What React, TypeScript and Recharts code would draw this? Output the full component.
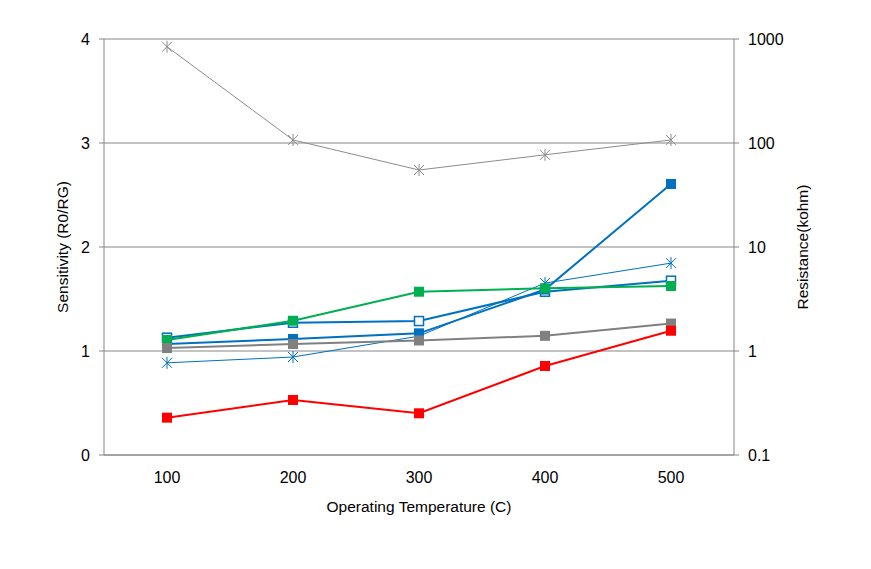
import React from 'react';
import { LineChart, Line, XAxis, YAxis, CartesianGrid } from 'recharts';

const temps = [100, 200, 300, 400, 500];
const xBoundaries = [50, 150, 250, 350, 450, 550];
const sensTicks = [0, 1, 2, 3, 4];
const resTicks = [0.1, 1, 10, 100, 1000];

// Resistance (kohm), right log axis
const resGray = [843, 107, 55, 77, 107];
const resBlue = [0.77, 0.875, 1.39, 4.5, 7.0];
// Sensitivity (R0/RG), left axis
const sensBlueOpen = [1.128, 1.272, 1.288, 1.57, 1.676];
const sensBlueFilled = [1.067, 1.115, 1.17, 1.591, 2.606];
const sensGreen = [1.106, 1.291, 1.57, 1.603, 1.625];
const sensGray = [1.029, 1.067, 1.101, 1.146, 1.264];
const sensRed = [0.359, 0.529, 0.401, 0.856, 1.195];

const data = temps.map((t, i) => ({
  temp: t,
  resGray: resGray[i],
  resBlue: resBlue[i],
  blueOpen: sensBlueOpen[i],
  blueFilled: sensBlueFilled[i],
  green: sensGreen[i],
  gray: sensGray[i],
  red: sensRed[i],
}));

const FONT = '"Liberation Sans", Arial, sans-serif';
const AXIS = '#868686';

const squareDot = (color: string) => (props: any) => {
  const { cx, cy, index } = props;
  return <rect key={`s${index}`} x={cx - 5} y={cy - 5} width={10} height={10} fill={color} />;
};
const openSquareDot = (color: string) => (props: any) => {
  const { cx, cy, index } = props;
  return (
    <rect key={`o${index}`} x={cx - 4.5} y={cy - 4.5} width={9} height={9} fill="#fff" stroke={color} strokeWidth={1.5} />
  );
};
const starDot = (color: string) => (props: any) => {
  const { cx, cy, index } = props;
  return (
    <g key={`a${index}`} stroke={color} strokeWidth={1}>
      <line x1={cx - 5} y1={cy - 5} x2={cx + 5} y2={cy + 5} />
      <line x1={cx - 5} y1={cy + 5} x2={cx + 5} y2={cy - 5} />
      <line x1={cx} y1={cy - 6} x2={cx} y2={cy + 6} />
    </g>
  );
};

const tickStyle = { fill: '#000', fontSize: 16, fontFamily: FONT };

export default function App() {
  return (
    <div style={{ position: 'absolute', left: 0, top: 0, width: 871, height: 569, background: '#fff', fontFamily: FONT }}>
      <LineChart width={871} height={569} data={data} margin={{ top: 39, right: 77, bottom: 84, left: 44 }}>
        <CartesianGrid yAxisId="left" xAxisId="a" vertical={false} stroke={AXIS} strokeWidth={1} />
        <XAxis
          xAxisId="b"
          type="number"
          dataKey="temp"
          domain={[50, 550]}
          ticks={xBoundaries}
          height={0}
          axisLine={false}
          tickLine={{ stroke: AXIS }}
          tickSize={5}
          tickFormatter={() => ''}
          interval={0}
        />
        <XAxis
          xAxisId="a"
          type="number"
          dataKey="temp"
          domain={[50, 550]}
          ticks={temps}
          height={30}
          axisLine={{ stroke: AXIS }}
          tickLine={false}
          tickSize={6}
          tickMargin={11}
          tick={tickStyle}
          interval={0}
          label={{
            content: (p: any) => {
              const vb = p.viewBox;
              return (
                <text x={vb.x + vb.width / 2} y={vb.y + 57} textAnchor="middle" fontSize={15.5} fontFamily={FONT} fill="#000">
                  Operating Temperature (C)
                </text>
              );
            },
          }}
        />
        <YAxis
          yAxisId="left"
          orientation="left"
          width={60}
          domain={[0, 4]}
          ticks={sensTicks}
          axisLine={{ stroke: AXIS }}
          tickLine={{ stroke: AXIS }}
          tickSize={5}
          tickMargin={9}
          tick={tickStyle}
          interval={0}
          label={{
            content: (p: any) => {
              const vb = p.viewBox;
              const x = vb.x + 18;
              const y = vb.y + vb.height / 2;
              return (
                <text x={x} y={y} transform={`rotate(-90, ${x}, ${y})`} textAnchor="middle" dominantBaseline="central" fontSize={15.5} fontFamily={FONT} fill="#000">
                  Sensitivity (R0/RG)
                </text>
              );
            },
          }}
        />
        <YAxis
          yAxisId="right"
          orientation="right"
          width={60}
          scale="log"
          domain={[0.1, 1000]}
          allowDataOverflow
          ticks={resTicks}
          axisLine={{ stroke: AXIS }}
          tickLine={{ stroke: AXIS }}
          tickSize={5}
          tickMargin={9}
          tick={tickStyle}
          interval={0}
          label={{
            content: (p: any) => {
              const vb = p.viewBox;
              const x = vb.x + 68;
              const y = vb.y + vb.height / 2;
              return (
                <text x={x} y={y} transform={`rotate(-90, ${x}, ${y})`} textAnchor="middle" dominantBaseline="central" fontSize={15.5} fontFamily={FONT} fill="#000">
                  Resistance(kohm)
                </text>
              );
            },
          }}
        />
        <Line xAxisId="a" yAxisId="right" dataKey="resGray" stroke="#8c8c8c" strokeWidth={1} dot={starDot('#8c8c8c')} isAnimationActive={false} />
        <Line xAxisId="a" yAxisId="right" dataKey="resBlue" stroke="#0070C0" strokeWidth={1} dot={starDot('#0070C0')} isAnimationActive={false} />
        <Line xAxisId="a" yAxisId="left" dataKey="blueOpen" stroke="#0070C0" strokeWidth={2} dot={openSquareDot('#0070C0')} isAnimationActive={false} />
        <Line xAxisId="a" yAxisId="left" dataKey="blueFilled" stroke="#0070C0" strokeWidth={2} dot={squareDot('#0070C0')} isAnimationActive={false} />
        <Line xAxisId="a" yAxisId="left" dataKey="green" stroke="#00B050" strokeWidth={2} dot={squareDot('#00B050')} isAnimationActive={false} />
        <Line xAxisId="a" yAxisId="left" dataKey="gray" stroke="#808080" strokeWidth={2} dot={squareDot('#808080')} isAnimationActive={false} />
        <Line xAxisId="a" yAxisId="left" dataKey="red" stroke="#FF0000" strokeWidth={2} dot={squareDot('#FF0000')} isAnimationActive={false} />
      </LineChart>
    </div>
  );
}
